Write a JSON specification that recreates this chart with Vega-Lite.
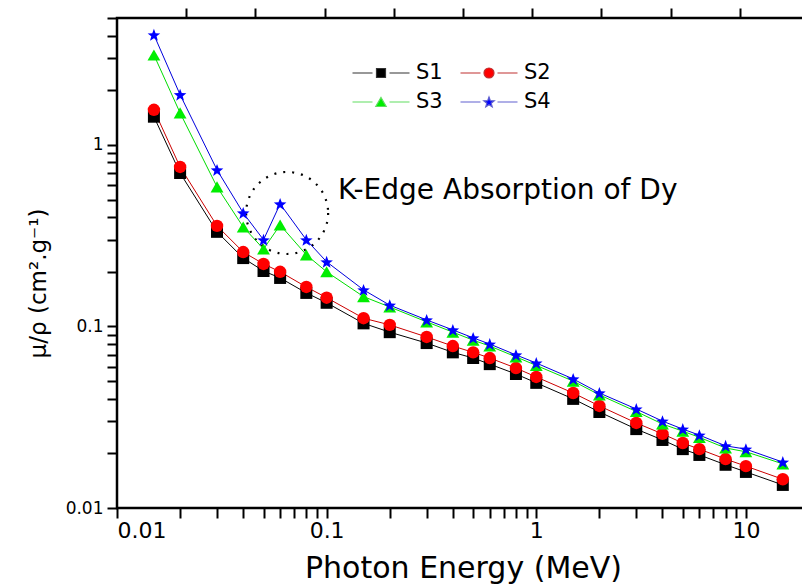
{
  "$schema": "https://vega.github.io/schema/vega-lite/v6.json",
  "width": 692,
  "height": 490,
  "autosize": {"type": "none"},
  "padding": {"left": 117, "top": 18, "right": -7, "bottom": 80},
  "background": "white",
  "config": {
    "view": {"stroke": "black", "strokeWidth": 2.5},
    "axis": {
      "grid": false,
      "tickColor": "black",
      "tickWidth": 2,
      "labelColor": "black",
      "titleColor": "black",
      "labelFont": "DejaVu Sans",
      "titleFont": "DejaVu Sans",
      "titleFontWeight": "normal"
    }
  },
  "datasets": {
    "series": [
      {"e": 0.015, "s": "S1", "mu": 1.43},
      {"e": 0.02, "s": "S1", "mu": 0.70},
      {"e": 0.03, "s": "S1", "mu": 0.332},
      {"e": 0.04, "s": "S1", "mu": 0.238},
      {"e": 0.05, "s": "S1", "mu": 0.202},
      {"e": 0.06, "s": "S1", "mu": 0.185},
      {"e": 0.08, "s": "S1", "mu": 0.153},
      {"e": 0.1, "s": "S1", "mu": 0.135},
      {"e": 0.15, "s": "S1", "mu": 0.104},
      {"e": 0.2, "s": "S1", "mu": 0.093},
      {"e": 0.3, "s": "S1", "mu": 0.081},
      {"e": 0.4, "s": "S1", "mu": 0.072},
      {"e": 0.5, "s": "S1", "mu": 0.067},
      {"e": 0.6, "s": "S1", "mu": 0.062},
      {"e": 0.8, "s": "S1", "mu": 0.0547},
      {"e": 1, "s": "S1", "mu": 0.0489},
      {"e": 1.5, "s": "S1", "mu": 0.0399},
      {"e": 2, "s": "S1", "mu": 0.0338},
      {"e": 3, "s": "S1", "mu": 0.0272},
      {"e": 4, "s": "S1", "mu": 0.0237},
      {"e": 5, "s": "S1", "mu": 0.0211},
      {"e": 6, "s": "S1", "mu": 0.0196},
      {"e": 8, "s": "S1", "mu": 0.0173},
      {"e": 10, "s": "S1", "mu": 0.0158},
      {"e": 15, "s": "S1", "mu": 0.0134},
      {"e": 0.015, "s": "S2", "mu": 1.56},
      {"e": 0.02, "s": "S2", "mu": 0.756},
      {"e": 0.03, "s": "S2", "mu": 0.358},
      {"e": 0.04, "s": "S2", "mu": 0.257},
      {"e": 0.05, "s": "S2", "mu": 0.221},
      {"e": 0.06, "s": "S2", "mu": 0.200},
      {"e": 0.08, "s": "S2", "mu": 0.165},
      {"e": 0.1, "s": "S2", "mu": 0.144},
      {"e": 0.15, "s": "S2", "mu": 0.111},
      {"e": 0.2, "s": "S2", "mu": 0.102},
      {"e": 0.3, "s": "S2", "mu": 0.0875},
      {"e": 0.4, "s": "S2", "mu": 0.078},
      {"e": 0.5, "s": "S2", "mu": 0.072},
      {"e": 0.6, "s": "S2", "mu": 0.067},
      {"e": 0.8, "s": "S2", "mu": 0.059},
      {"e": 1, "s": "S2", "mu": 0.0527},
      {"e": 1.5, "s": "S2", "mu": 0.043},
      {"e": 2, "s": "S2", "mu": 0.0365},
      {"e": 3, "s": "S2", "mu": 0.0294},
      {"e": 4, "s": "S2", "mu": 0.0256},
      {"e": 5, "s": "S2", "mu": 0.0228},
      {"e": 6, "s": "S2", "mu": 0.0211},
      {"e": 8, "s": "S2", "mu": 0.0186},
      {"e": 10, "s": "S2", "mu": 0.0170},
      {"e": 15, "s": "S2", "mu": 0.0144},
      {"e": 0.015, "s": "S3", "mu": 3.13},
      {"e": 0.02, "s": "S3", "mu": 1.50},
      {"e": 0.03, "s": "S3", "mu": 0.587},
      {"e": 0.04, "s": "S3", "mu": 0.353},
      {"e": 0.05, "s": "S3", "mu": 0.267},
      {"e": 0.06, "s": "S3", "mu": 0.362},
      {"e": 0.08, "s": "S3", "mu": 0.248},
      {"e": 0.1, "s": "S3", "mu": 0.200},
      {"e": 0.15, "s": "S3", "mu": 0.146},
      {"e": 0.2, "s": "S3", "mu": 0.128},
      {"e": 0.3, "s": "S3", "mu": 0.106},
      {"e": 0.4, "s": "S3", "mu": 0.093},
      {"e": 0.5, "s": "S3", "mu": 0.084},
      {"e": 0.6, "s": "S3", "mu": 0.078},
      {"e": 0.8, "s": "S3", "mu": 0.068},
      {"e": 1, "s": "S3", "mu": 0.061},
      {"e": 1.5, "s": "S3", "mu": 0.050},
      {"e": 2, "s": "S3", "mu": 0.042},
      {"e": 3, "s": "S3", "mu": 0.034},
      {"e": 4, "s": "S3", "mu": 0.029},
      {"e": 5, "s": "S3", "mu": 0.0265},
      {"e": 6, "s": "S3", "mu": 0.0245},
      {"e": 8, "s": "S3", "mu": 0.0214},
      {"e": 10, "s": "S3", "mu": 0.0204},
      {"e": 15, "s": "S3", "mu": 0.0175},
      {"e": 0.015, "s": "S4", "mu": 4.04},
      {"e": 0.02, "s": "S4", "mu": 1.89},
      {"e": 0.03, "s": "S4", "mu": 0.728},
      {"e": 0.04, "s": "S4", "mu": 0.422},
      {"e": 0.05, "s": "S4", "mu": 0.300},
      {"e": 0.06, "s": "S4", "mu": 0.473},
      {"e": 0.08, "s": "S4", "mu": 0.300},
      {"e": 0.1, "s": "S4", "mu": 0.227},
      {"e": 0.15, "s": "S4", "mu": 0.159},
      {"e": 0.2, "s": "S4", "mu": 0.131},
      {"e": 0.3, "s": "S4", "mu": 0.1086},
      {"e": 0.4, "s": "S4", "mu": 0.0957},
      {"e": 0.5, "s": "S4", "mu": 0.0865},
      {"e": 0.6, "s": "S4", "mu": 0.080},
      {"e": 0.8, "s": "S4", "mu": 0.0697},
      {"e": 1, "s": "S4", "mu": 0.0629},
      {"e": 1.5, "s": "S4", "mu": 0.0514},
      {"e": 2, "s": "S4", "mu": 0.043},
      {"e": 3, "s": "S4", "mu": 0.0351},
      {"e": 4, "s": "S4", "mu": 0.0301},
      {"e": 5, "s": "S4", "mu": 0.0272},
      {"e": 6, "s": "S4", "mu": 0.0252},
      {"e": 8, "s": "S4", "mu": 0.022},
      {"e": 10, "s": "S4", "mu": 0.0211},
      {"e": 15, "s": "S4", "mu": 0.0179}
    ],
    "ring": [{"e": 0.0648, "mu": 0.4217}],
    "note": [{"e": 0.1134, "mu": 0.503, "text": "K-Edge Absorption of Dy"}]
  },
  "layer": [
    {
      "data": {"name": "ring"},
      "mark": {"type": "point", "shape": "circle", "size": 6724, "filled": false, "stroke": "black", "strokeWidth": 2.2, "strokeDash": [2, 7], "opacity": 1},
      "encoding": {
        "x": {"field": "e", "type": "quantitative", "scale": {"type": "log", "domain": [0.01, 20]}, "axis": null},
        "y": {"field": "mu", "type": "quantitative", "scale": {"type": "log", "domain": [0.01, 5]}, "axis": null}
      }
    },
    {
      "data": {"name": "series"},
      "mark": {"type": "line", "strokeWidth": 1},
      "encoding": {
        "x": {"field": "e", "type": "quantitative", "scale": {"type": "log", "domain": [0.01, 20]},
              "axis": {"orient": "bottom",
                       "values": [0.01,0.02,0.03,0.04,0.05,0.06,0.07,0.08,0.09,0.1,0.2,0.3,0.4,0.5,0.6,0.7,0.8,0.9,1,2,3,4,5,6,7,8,9,10],
                       "tickCount": 100,
                       "labelExpr": "indexof([0.01, 0.1, 1, 10], datum.value) >= 0 ? format(datum.value, '~g') : ''",
                       "labelOverlap": false,
                       "domain": false, "ticks": true, "tickSize": 10,
                       "encode": {"ticks": {"update": {"y2": {"signal": "indexof([0.01, 0.1, 1, 10], datum.value) >= 0 ? -10 : -6"}}}},
                       "labelFontSize": 22, "labelPadding": 2,
                       "title": "Photon Energy (MeV)", "titleFontSize": 30,
                       "titleAnchor": "middle", "titleAlign": "center", "titleBaseline": "alphabetic", "titleX": 346, "titleY": 69}},
        "y": {"field": "mu", "type": "quantitative", "scale": {"type": "log", "domain": [0.01, 5]},
              "axis": {"orient": "left",
                       "values": [0.01,0.02,0.03,0.04,0.05,0.06,0.07,0.08,0.09,0.1,0.2,0.3,0.4,0.5,0.6,0.7,0.8,0.9,1,2,3,4,5],
                       "tickCount": 100,
                       "labelExpr": "indexof([0.01, 0.1, 1], datum.value) >= 0 ? format(datum.value, '~g') : ''",
                       "labelOverlap": false,
                       "domain": false, "ticks": true, "tickSize": 10,
                       "encode": {"ticks": {"update": {"x2": {"signal": "indexof([0.01, 0.1, 1], datum.value) >= 0 ? 10 : 6"}}}},
                       "labelFontSize": 17, "labelPadding": 4,
                       "title": "μ/ρ (cm².g⁻¹)", "titleFontSize": 23,
                       "titleAngle": 270, "titleAlign": "center", "titleBaseline": "alphabetic", "titleX": -72, "titleY": 265}},
        "color": {"field": "s", "type": "nominal", "scale": {"domain": ["S1", "S2", "S3", "S4"], "range": ["#000000", "#cc0000", "#00dd00", "#0000dd"]}, "legend": null},
        "order": {"field": "e", "type": "quantitative"}
      }
    },
    {
      "data": {"name": "series"},
      "mark": {"type": "point", "filled": true, "opacity": 1, "strokeWidth": 0},
      "encoding": {
        "x": {"field": "e", "type": "quantitative", "scale": {"type": "log", "domain": [0.01, 20]}, "axis": null},
        "y": {"field": "mu", "type": "quantitative", "scale": {"type": "log", "domain": [0.01, 5]}, "axis": null},
        "color": {"field": "s", "type": "nominal", "scale": {"domain": ["S1", "S2", "S3", "S4"], "range": ["#000000", "#ff0000", "#00ee00", "#0000ff"]}, "legend": null},
        "shape": {"field": "s", "type": "nominal", "scale": {"domain": ["S1", "S2", "S3", "S4"], "range": ["square", "circle", "triangle-up", "M0,-0.905L0.247,-0.245L0.951,-0.214L0.399,0.225L0.588,0.904L0,0.515L-0.588,0.904L-0.399,0.225L-0.951,-0.214L-0.247,-0.245Z"]}, "legend": null},
        "size": {"field": "s", "type": "nominal", "scale": {"domain": ["S1", "S2", "S3", "S4"], "range": [144, 175, 289, 290]}, "legend": null}
      }
    },
    {
      "data": {"name": "note"},
      "mark": {"type": "text", "align": "left", "baseline": "alphabetic", "font": "DejaVu Sans", "fontSize": 28, "color": "black"},
      "encoding": {
        "x": {"field": "e", "type": "quantitative", "scale": {"type": "log", "domain": [0.01, 20]},
              "axis": {"orient": "top",
                       "values": [0.02138, 0.04574, 0.09784, 0.2092, 0.4475, 0.957, 2.047, 4.377, 9.363],
                       "tickCount": 100, "labels": false, "domain": false, "ticks": true, "tickSize": 10,
                       "encode": {"ticks": {"update": {"y2": {"signal": "indexof([0.04574, 0.2092, 0.957, 4.377], datum.value) >= 0 ? 10 : 6"}}}},
                       "title": null}},
        "y": {"field": "mu", "type": "quantitative", "scale": {"type": "log", "domain": [0.01, 5]},
              "axis": {"orient": "right",
                       "values": [1.443, 0.4163, 0.1201, 0.03465],
                       "tickCount": 100, "labels": false, "domain": false, "ticks": true, "tickSize": 12,
                       "encode": {"ticks": {"update": {"x2": {"value": -12}}}},
                       "title": null}},
        "text": {"field": "text"}
      }
    },
    {
      "data": {"name": "series"},
      "mark": {"type": "point", "filled": true, "opacity": 0},
      "encoding": {
        "x": {"field": "e", "type": "quantitative", "scale": {"type": "log", "domain": [0.01, 20]}, "axis": null},
        "y": {"field": "mu", "type": "quantitative", "scale": {"type": "log", "domain": [0.01, 5]}, "axis": null},
        "color": {"field": "s", "type": "nominal", "scale": {"domain": ["S1", "S2", "S3", "S4"], "range": ["#000000", "#ff0000", "#00ee00", "#0000ff"]},
                  "legend": {"title": null, "orient": "none", "legendX": 253, "legendY": 44, "columns": 2, "direction": "horizontal", "symbolSize": 400, "symbolStrokeWidth": 1.2, "symbolOpacity": 1, "labelFont": "DejaVu Sans", "labelFontSize": 21, "labelColor": "black", "labelOffset": 24, "rowPadding": 8, "columnPadding": 15}},
        "stroke": {"field": "s", "type": "nominal", "scale": {"domain": ["S1", "S2", "S3", "S4"], "range": ["#333333", "#c03030", "#60dd60", "#6060d0"]},
                  "legend": {"title": null, "orient": "none", "legendX": 253, "legendY": 44, "columns": 2, "direction": "horizontal", "symbolSize": 400, "symbolStrokeWidth": 1.2, "symbolOpacity": 1, "labelFont": "DejaVu Sans", "labelFontSize": 21, "labelColor": "black", "labelOffset": 24, "rowPadding": 8, "columnPadding": 15}},
        "shape": {"field": "s", "type": "nominal", "scale": {"domain": ["S1", "S2", "S3", "S4"], "range": [
                    "M-2.85,0H-0.85M0.85,0H2.85M-0.45,-0.45H0.45V0.45H-0.45Z",
                    "M-2.85,0H-0.85M0.85,0H2.85M0.5,0A0.5,0.5,0,1,1,-0.5,0A0.5,0.5,0,1,1,0.5,0Z",
                    "M-2.85,0H-0.85M0.85,0H2.85M0,-0.45L0.52,0.45L-0.52,0.45Z",
                    "M-2.85,0H-0.85M0.85,0H2.85M0,-0.498L0.136,-0.135L0.523,-0.118L0.219,0.124L0.323,0.497L0,0.283L-0.323,0.497L-0.219,0.124L-0.523,-0.118L-0.136,-0.135Z"]},
                  "legend": {"title": null, "orient": "none", "legendX": 253, "legendY": 44, "columns": 2, "direction": "horizontal", "symbolSize": 400, "symbolStrokeWidth": 1.2, "symbolOpacity": 1, "labelFont": "DejaVu Sans", "labelFontSize": 21, "labelColor": "black", "labelOffset": 24, "rowPadding": 8, "columnPadding": 15}}
      }
    }
  ],
  "resolve": {
    "scale": {"color": "independent", "shape": "independent", "size": "independent", "stroke": "independent"},
    "axis": {"x": "independent", "y": "independent"}
  }
}
